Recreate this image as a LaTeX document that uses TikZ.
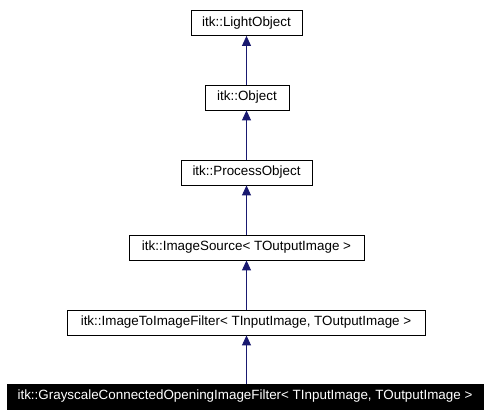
\documentclass[tikz,border=0pt]{standalone}
\usepackage{fontspec}
\setmainfont{Liberation Sans}
\usetikzlibrary{arrows.meta}
\definecolor{edgeblue}{RGB}{25,25,112}
\begin{document}
\begin{tikzpicture}[x=1pt,y=-1pt,
  cls/.style={draw=black,fill=white,line width=0.8pt,minimum height=25pt,inner sep=0pt,font=\fontsize{13.4}{15}\selectfont},
  cur/.style={cls,fill=black,text=white},
  inh/.style={draw=edgeblue,line width=0.9pt,-{Triangle[length=10pt,width=9pt]}}]
\useasboundingbox (0,0) rectangle (492,415);
\node[cls,minimum width=111pt] (a) at (246.5,23) {itk::LightObject};
\node[cls,minimum width=84pt] (b) at (247,97.5) {itk::Object};
\node[cls,minimum width=131pt] (c) at (246.5,172.5) {itk::ProcessObject};
\node[cls,minimum width=235pt] (d) at (246.5,247.5) {itk::ImageSource< TOutputImage >};
\node[cls,minimum width=358pt] (e) at (246,322.5) {itk::ImageToImageFilter< TInputImage, TOutputImage >};
\node[cur,minimum width=476pt] (f) at (245,396.5) {itk::GrayscaleConnectedOpeningImageFilter< TInputImage, TOutputImage >};
\draw[inh] (b.north -| a.south) -- (a.south);
\draw[inh] (c.north -| a.south) -- (b.south -| a.south);
\draw[inh] (d.north -| a.south) -- (c.south -| a.south);
\draw[inh] (e.north -| a.south) -- (d.south -| a.south);
\draw[inh] (f.north -| a.south) -- (e.south -| a.south);
\end{tikzpicture}
\end{document}
